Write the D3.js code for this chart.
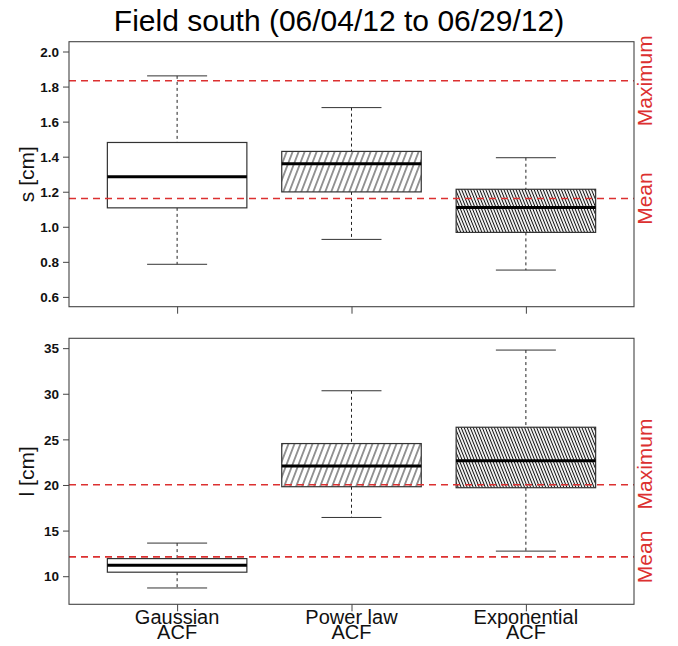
<!DOCTYPE html>
<html>
<head>
<meta charset="utf-8">
<script src="https://cdn.jsdelivr.net/npm/d3@7"></script>
<style>
  body { margin: 0; background: #fff; }
  text { font-family: "Liberation Sans", Arial, sans-serif; }
</style>
</head>
<body>
<div id="chart"></div>
<script>
// categories and box statistics [lower whisker, q1, median, q3, upper whisker]
var categories = ["Gaussian", "Power law", "Exponential"];
var subLabel = "ACF";

var sStats = [
  [0.786, 1.108, 1.286, 1.481, 1.861],
  [0.928, 1.199, 1.360, 1.430, 1.680],
  [0.753, 0.968, 1.110, 1.214, 1.394]
];
var lStats = [
  [8.71, 10.44, 11.21, 11.93, 13.63],
  [16.44, 19.81, 22.09, 24.54, 30.33],
  [12.75, 19.70, 22.67, 26.33, 34.79]
];

// reference lines (mean, maximum)
var refNames = ["Mean", "Maximum"];
var sRef = [1.161, 1.833];
var lRef = [12.12, 20.03];
// where the red labels sit (data units)
var sRefLabelAt = [1.161, 1.833];
var lRefLabelAt = [12.12, 22.3];

var sTicks = [0.6, 0.8, 1.0, 1.2, 1.4, 1.6, 1.8, 2.0];
var lTicks = [10, 15, 20, 25, 30, 35];

var width = 678, height = 646;
var left = 69, right = 634;
var red = "#dc3030";

var svg = d3.select("#chart").append("svg")
  .attr("width", width)
  .attr("height", height);

var defs = svg.append("defs");
function hatch(id, spacing, angle, lw) {
  var p = defs.append("pattern")
    .attr("id", id)
    .attr("patternUnits", "userSpaceOnUse")
    .attr("width", spacing)
    .attr("height", 10)
    .attr("patternTransform", "rotate(" + angle + ")");
  p.append("rect").attr("width", spacing).attr("height", 10).attr("fill", "#fff");
  p.append("line")
    .attr("x1", spacing / 2).attr("x2", spacing / 2)
    .attr("y1", 0).attr("y2", 10)
    .attr("stroke", "#111").attr("stroke-width", lw);
}
hatch("hatchSparse", 5.6, 21, 0.9);
hatch("hatchDense", 2.8, -22, 1.05);
var fills = ["#fff", "url(#hatchSparse)", "url(#hatchDense)"];

// R style x scale: 0.5..3.5 extended by 4%
var x = d3.scaleLinear().domain([0.38, 3.62]).range([left, right]);
var boxHalf = 0.4, capHalf = 0.172;

svg.append("text")
  .attr("x", width / 2).attr("y", 31)
  .attr("text-anchor", "middle")
  .attr("font-size", 30)
  .text("Field south (06/04/12 to 06/29/12)");

function panel(stats, refs, refLabelAt, ticks, domain, top, bottom, ylab, fmt, showCats) {
  var y = d3.scaleLinear().domain(domain).range([bottom, top]);
  var g = svg.append("g");

  // y axis
  var yAxis = d3.axisLeft(y).tickValues(ticks).tickSize(6).tickPadding(4).tickFormat(fmt);
  var ya = g.append("g").attr("transform", "translate(" + left + ",0)").call(yAxis);
  ya.select(".domain").remove();
  ya.selectAll("line").attr("stroke", "#444");
  ya.selectAll("text")
    .attr("font-size", 13.5).attr("font-weight", "bold")
    .attr("font-family", "'Liberation Sans', Arial, sans-serif")
    .attr("fill", "#111").attr("dy", "0.35em");

  // x ticks
  var xAxis = d3.axisBottom(x).tickValues([1, 2, 3]).tickSize(7).tickFormat("");
  var xa = g.append("g").attr("transform", "translate(0," + bottom + ")").call(xAxis);
  xa.select(".domain").remove();
  xa.selectAll("line").attr("stroke", "#444");

  if (showCats) {
    categories.forEach(function (c, i) {
      var t = g.append("text")
        .attr("x", x(i + 1))
        .attr("text-anchor", "middle")
        .attr("font-size", 20)
        .attr("fill", "#111");
      t.append("tspan").attr("x", x(i + 1)).attr("y", bottom + 20).text(c);
      t.append("tspan").attr("x", x(i + 1)).attr("y", bottom + 34.5).text(subLabel);
    });
  }

  // y label
  g.append("text")
    .attr("transform", "translate(33.5," + (top + bottom) / 2 + ") rotate(-90)")
    .attr("text-anchor", "middle")
    .attr("font-size", 21)
    .attr("fill", "#111")
    .text(ylab);

  // boxes
  var boxes = g.selectAll(".box").data(stats).enter().append("g").attr("class", "box");
  boxes.append("line")
    .attr("x1", function (d, i) { return x(i + 1); })
    .attr("x2", function (d, i) { return x(i + 1); })
    .attr("y1", function (d) { return y(d[4]); })
    .attr("y2", function (d) { return y(d[3]); })
    .attr("stroke", "#222").attr("stroke-dasharray", "3,3");
  boxes.append("line")
    .attr("x1", function (d, i) { return x(i + 1); })
    .attr("x2", function (d, i) { return x(i + 1); })
    .attr("y1", function (d) { return y(d[1]); })
    .attr("y2", function (d) { return y(d[0]); })
    .attr("stroke", "#222").attr("stroke-dasharray", "3,3");
  [0, 4].forEach(function (k) {
    boxes.append("line")
      .attr("x1", function (d, i) { return x(i + 1 - capHalf); })
      .attr("x2", function (d, i) { return x(i + 1 + capHalf); })
      .attr("y1", function (d) { return y(d[k]); })
      .attr("y2", function (d) { return y(d[k]); })
      .attr("stroke", "#333");
  });
  boxes.append("rect")
    .attr("x", function (d, i) { return x(i + 1 - boxHalf); })
    .attr("width", function (d, i) { return x(i + 1 + boxHalf) - x(i + 1 - boxHalf); })
    .attr("y", function (d) { return y(d[3]); })
    .attr("height", function (d) { return y(d[1]) - y(d[3]); })
    .attr("fill", function (d, i) { return fills[i]; })
    .attr("stroke", "#333").attr("stroke-width", 1.2);
  boxes.append("line")
    .attr("x1", function (d, i) { return x(i + 1 - boxHalf); })
    .attr("x2", function (d, i) { return x(i + 1 + boxHalf); })
    .attr("y1", function (d) { return y(d[2]); })
    .attr("y2", function (d) { return y(d[2]); })
    .attr("stroke", "#000").attr("stroke-width", 3);

  // reference lines
  g.selectAll(".ref").data(refs).enter().append("line")
    .attr("x1", left).attr("x2", right)
    .attr("y1", function (d) { return y(d); })
    .attr("y2", function (d) { return y(d); })
    .attr("stroke", red).attr("stroke-width", 1.6)
    .attr("stroke-dasharray", "7,5");

  g.selectAll(".refLab").data(refLabelAt).enter().append("text")
    .attr("transform", function (d) { return "translate(652," + y(d) + ") rotate(-90)"; })
    .attr("text-anchor", "middle")
    .attr("font-size", 21)
    .attr("fill", red)
    .text(function (d, i) { return refNames[i]; });

  // frame
  g.append("rect")
    .attr("x", left).attr("y", top)
    .attr("width", right - left).attr("height", bottom - top)
    .attr("fill", "none").attr("stroke", "#444").attr("stroke-width", 1.1);
}

panel(sStats, sRef, sRefLabelAt, sTicks, [0.544, 2.056], 41.7, 306.7, "s [cm]", d3.format(".1f"), false);
panel(lStats, lRef, lRefLabelAt, lTicks, [6.92, 36.08], 338.3, 604.3, "l [cm]", d3.format("d"), true);
</script>
</body>
</html>
